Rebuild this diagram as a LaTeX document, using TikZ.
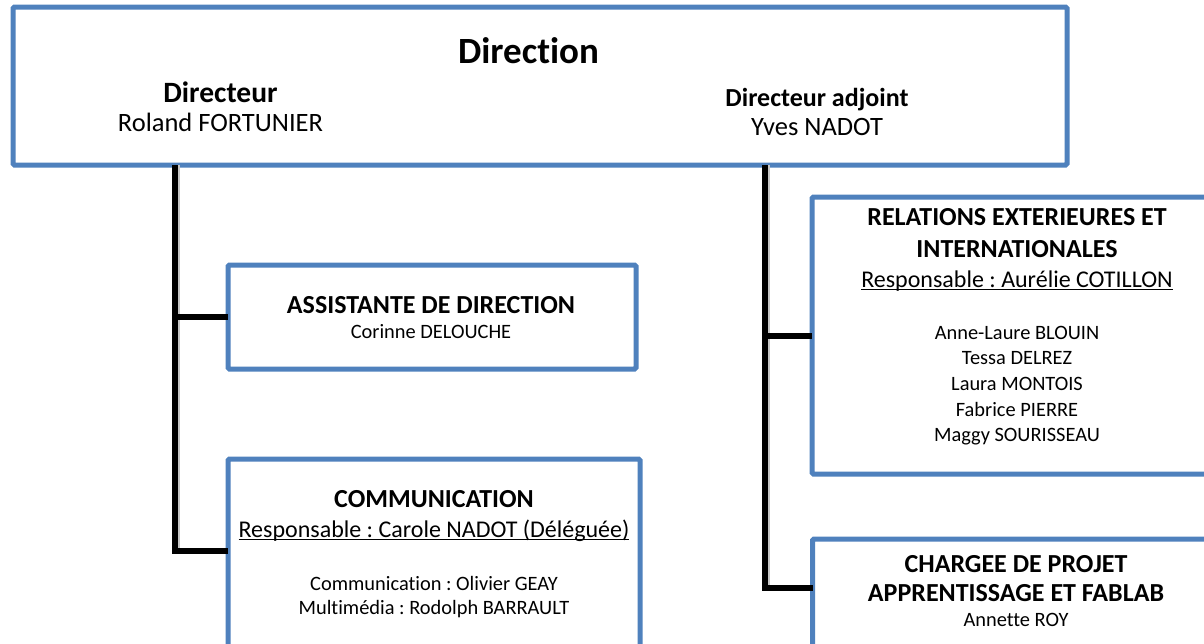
\documentclass[tikz,border=0pt]{standalone}
\usepackage{fontspec}
\setmainfont{Carlito}[Ligatures={NoCommon,NoRare}]
\definecolor{boxblue}{HTML}{4F81BD}
\newcommand\myul[1]{\setbox0\hbox{#1}\rlap{\raisebox{-3.2pt}{\rule{\wd0}{1.4pt}}}\box0}
\frenchspacing
\begin{document}
\begin{tikzpicture}[x=1pt,y=-1pt,
  box/.style={draw=boxblue, line width=5pt, fill=white, rounded corners=1.5pt, inner sep=0pt, outer sep=0pt},
  conn/.style={draw=black, line width=6pt},
  shad/.style={draw=black!22, line width=6pt},
  txt/.style={inner sep=0pt, anchor=base},
  bigtxt/.style={font=\bfseries\fontsize{37}{44}\selectfont},
  headtxt/.style={font=\bfseries\fontsize{26}{31}\selectfont},
  dirtxt/.style={font=\bfseries\fontsize{29.5}{35}\selectfont},
  nametxt/.style={font=\fontsize{26.5}{31}\selectfont},
  resptxt/.style={font=\fontsize{24}{29}\selectfont},
  smalltxt/.style={font=\fontsize{20.4}{25}\selectfont}]
\useasboundingbox (0,0) rectangle (1204,643);
\clip (0,0) rectangle (1204,643);

% boxes
\node[box, minimum width=1054pt, minimum height=158pt] (dir) at (540,86) {};
\node[box, minimum width=408pt, minimum height=104pt] (asst) at (432,317) {};
\node[box, minimum width=412pt, minimum height=221pt] (comm) at (434,569.5) {};
\node[box, minimum width=410pt, minimum height=277pt] (rel) at (1017,335.5) {};
\node[box, minimum width=410pt, minimum height=161pt] (proj) at (1017.5,619.5) {};

% hook points
\coordinate (lhook) at (comm.west |- 0,551);
\coordinate (rhook) at (proj.west |- 0,588);

% shadows of connectors
\begin{scope}[shift={(2,3)}]
\draw[shad] (dir.south -| 175,0) |- (lhook);
\draw[shad] (asst.west -| 178,0) -- (asst.west);
\draw[shad] (dir.south -| 765,0) |- (rhook);
\draw[shad] (rel.west -| 768,0) -- (rel.west);
\end{scope}
% connectors
\draw[conn] (dir.south -| 175,0) |- (lhook);
\draw[conn] (asst.west -| 178,0) -- (asst.west);
\draw[conn] (dir.south -| 765,0) |- (rhook);
\draw[conn] (rel.west -| 768,0) -- (rel.west);

% Direction texts
\node[txt, bigtxt] (t0) at (528.5,63) {Direction};
\node[txt, dirtxt] (t1) at (220.5,102) {Directeur};
\node[txt, nametxt] (t2) at (220.5,131) {Roland FORTUNIER};
\node[txt, headtxt] (t3) at (817,106) {Directeur adjoint};
\node[txt, nametxt] (t4) at (817,135) {Yves NADOT};

% Assistante
\node[txt, headtxt] (a1) at (431,313) {ASSISTANTE DE DIRECTION};
\node[txt, smalltxt] (a2) at (431,338) {Corinne DELOUCHE};

% Communication
\node[txt, headtxt] (c1) at (434,507) {COMMUNICATION};
\node[txt, resptxt] (c2) at (434,537) {\myul{Responsable : Carole NADOT (Déléguée)}};
\node[txt, smalltxt] (c3) at (434,590) {Communication : Olivier GEAY};
\node[txt, smalltxt] (c4) at (434,614) {Multimédia : Rodolph BARRAULT};

% Relations
\node[txt, headtxt] (r1) at (1017,225) {RELATIONS EXTERIEURES ET};
\node[txt, headtxt] (r2) at (1017,257) {INTERNATIONALES};
\node[txt, resptxt] (r3) at (1017,287) {\myul{Responsable : Aurélie COTILLON}};
\node[txt, smalltxt] (r4) at (1017,339) {Anne-Laure BLOUIN};
\node[txt, smalltxt] (r5) at (1017,364) {Tessa DELREZ};
\node[txt, smalltxt] (r6) at (1017,390) {Laura MONTOIS};
\node[txt, smalltxt] (r7) at (1017,416) {Fabrice PIERRE};
\node[txt, smalltxt] (r8) at (1017,441) {Maggy SOURISSEAU};

% Chargee
\node[txt, headtxt] (p1) at (1016,572) {CHARGEE DE PROJET};
\node[txt, headtxt] (p2) at (1016,601) {APPRENTISSAGE ET FABLAB};
\node[txt, smalltxt] (p3) at (1016,626) {Annette ROY};
\end{tikzpicture}
\end{document}
